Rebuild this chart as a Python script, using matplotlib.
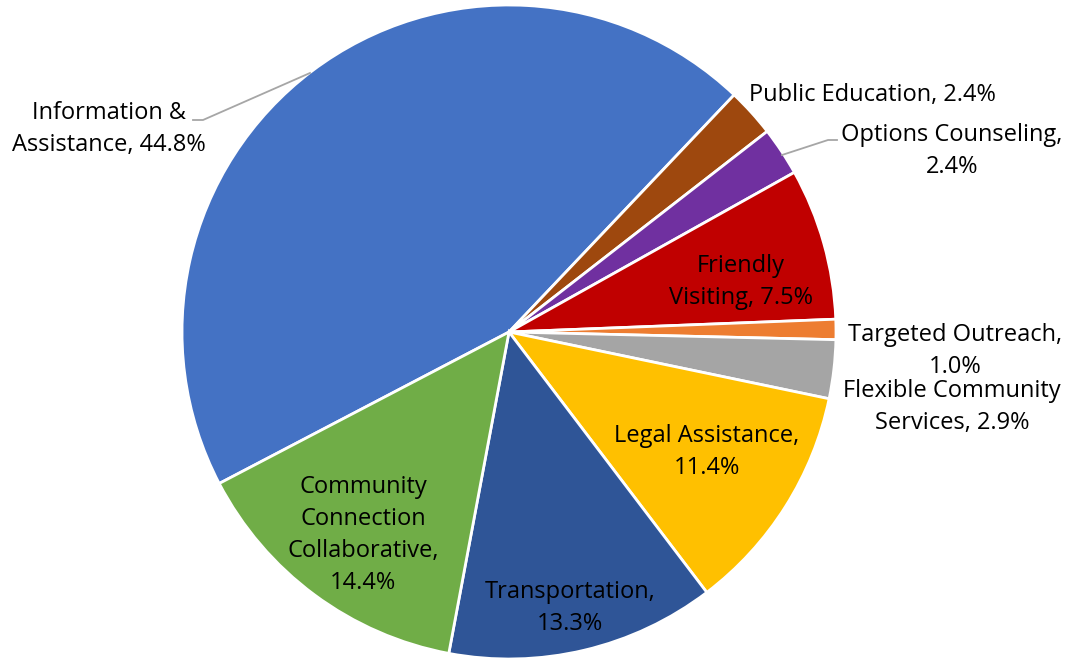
import matplotlib
matplotlib.use("Agg")
import matplotlib.pyplot as plt

# slices in clockwise order, starting with Information & Assistance
categories = ["Information & Assistance", "Public Education", "Options Counseling",
              "Friendly Visiting", "Targeted Outreach", "Flexible Community Services",
              "Legal Assistance", "Transportation", "Community Connection Collaborative"]
shares = [44.8, 2.4, 2.4, 7.5, 1.0, 2.9, 11.4, 13.3, 14.4]
colors = ["#4472C4", "#9E480E", "#7030A0", "#C00000", "#ED7D31",
          "#A5A5A5", "#FFC000", "#2F5597", "#70AD47"]
label_texts = ["Information &\nAssistance, 44.8%", "Public Education, 2.4%",
               "Options Counseling,\n2.4%", "Friendly\nVisiting, 7.5%",
               "Targeted Outreach,\n1.0%", "Flexible Community\nServices, 2.9%",
               "Legal Assistance,\n11.4%", "Transportation,\n13.3%",
               "Community\nConnection\nCollaborative,\n14.4%"]

plt.rcParams['font.family'] = ['Open Sans', 'DejaVu Sans']

W, H = 1070, 660
cx, cy, R = 509, 332, 327   # pie centre / radius in pixels

fig = plt.figure(figsize=(W / 100, H / 100), dpi=100)
ax = fig.add_axes([0, 0, 1, 1])

ax.pie(shares, colors=colors, startangle=207.6, counterclock=False,
       radius=1.0, wedgeprops=dict(edgecolor="white", linewidth=2.0))

ax.set_xlim(-cx / R, (W - cx) / R)
ax.set_ylim(-(H - cy) / R, cy / R)
ax.set_aspect("equal", adjustable="box")
ax.axis("off")


def px(x, y):
    # pixel position -> data coords
    return (x - cx) / R, (cy - y) / R


# label centres in pixels
label_pos = [(109, 129), (872, 95), (952, 151), (741, 282), (955, 351),
             (952, 407), (707, 452), (570, 608), (363, 535)]

for txt, (x, y) in zip(label_texts, label_pos):
    tx, ty = px(x, y)
    ax.text(tx, ty, txt, ha="center", va="center", fontsize=17,
            color="#000000", linespacing=1.45)

# leader lines
lead_color = "#A6A6A6"
for pts in ([(193, 120), (203, 120), (310, 73)],
            [(782, 155), (828, 140), (837, 140)]):
    xs = [px(a, b)[0] for a, b in pts]
    ys = [px(a, b)[1] for a, b in pts]
    ax.plot(xs, ys, color=lead_color, linewidth=1.3)

fig.savefig("out.png", dpi=100)
